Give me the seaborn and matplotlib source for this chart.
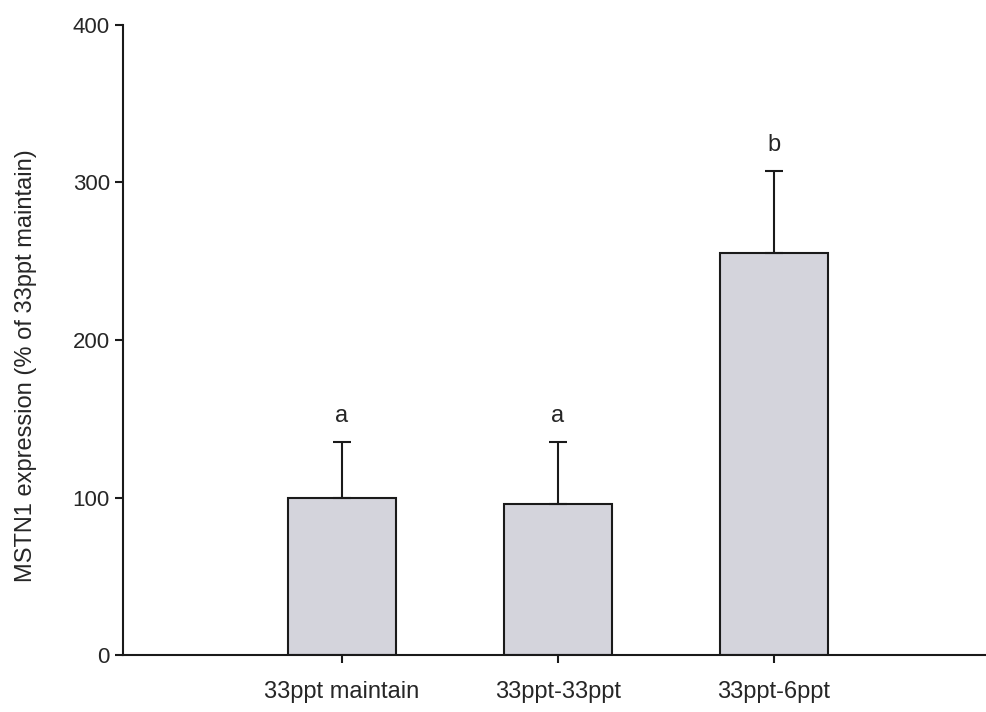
import seaborn as sns
import matplotlib.pyplot as plt
import pandas as pd

# values
groups = ["33ppt maintain", "33ppt-33ppt", "33ppt-6ppt"]
means = [100, 96, 255]
errors = [35, 39, 52]
letters = ["a", "a", "b"]

df = pd.DataFrame({"group": groups, "expr": means})

sns.set_style("white")
plt.rcParams['font.family'] = ['Liberation Sans', 'DejaVu Sans']

fig = plt.figure(figsize=(9.87, 7.12), dpi=100)
ax = fig.add_axes([0.1246, 0.080, 0.8754, 0.885])

sns.barplot(data=df, x="group", y="expr", color="#d4d4dc", width=0.5,
            edgecolor="#1a1a1a", linewidth=1.5, errorbar=None, saturation=1, ax=ax)

# upper error bars only
xs = range(len(groups))
ax.errorbar(xs, means, yerr=[[0] * len(means), errors], fmt="none",
            ecolor="#1a1a1a", elinewidth=1.5, capsize=6.5, capthick=1.5)

for x, m, e, l in zip(xs, means, errors, letters):
    ax.text(x, m + e + 10, l, ha="center", va="bottom", fontsize=17)

ax.set_ylim(0, 400)
ax.set_xlim(-1.014, 2.986)
ax.set_yticks([0, 100, 200, 300, 400])
ax.set_xlabel("")
ax.set_ylabel("MSTN1 expression (% of 33ppt maintain)", fontsize=17)
ax.yaxis.set_label_coords(-0.10, 0.46)

for s in ["top", "right"]:
    ax.spines[s].set_visible(False)
for s in ["left", "bottom"]:
    ax.spines[s].set_linewidth(1.5)
    ax.spines[s].set_color("#1a1a1a")

ax.tick_params(axis="both", direction="out", length=6, width=1.5, color="#1a1a1a",
               labelsize=17, bottom=True, left=True)
ax.tick_params(axis="x", pad=12.5)
ax.tick_params(axis="y", labelsize=16)

fig.savefig("out.png", dpi=100)
